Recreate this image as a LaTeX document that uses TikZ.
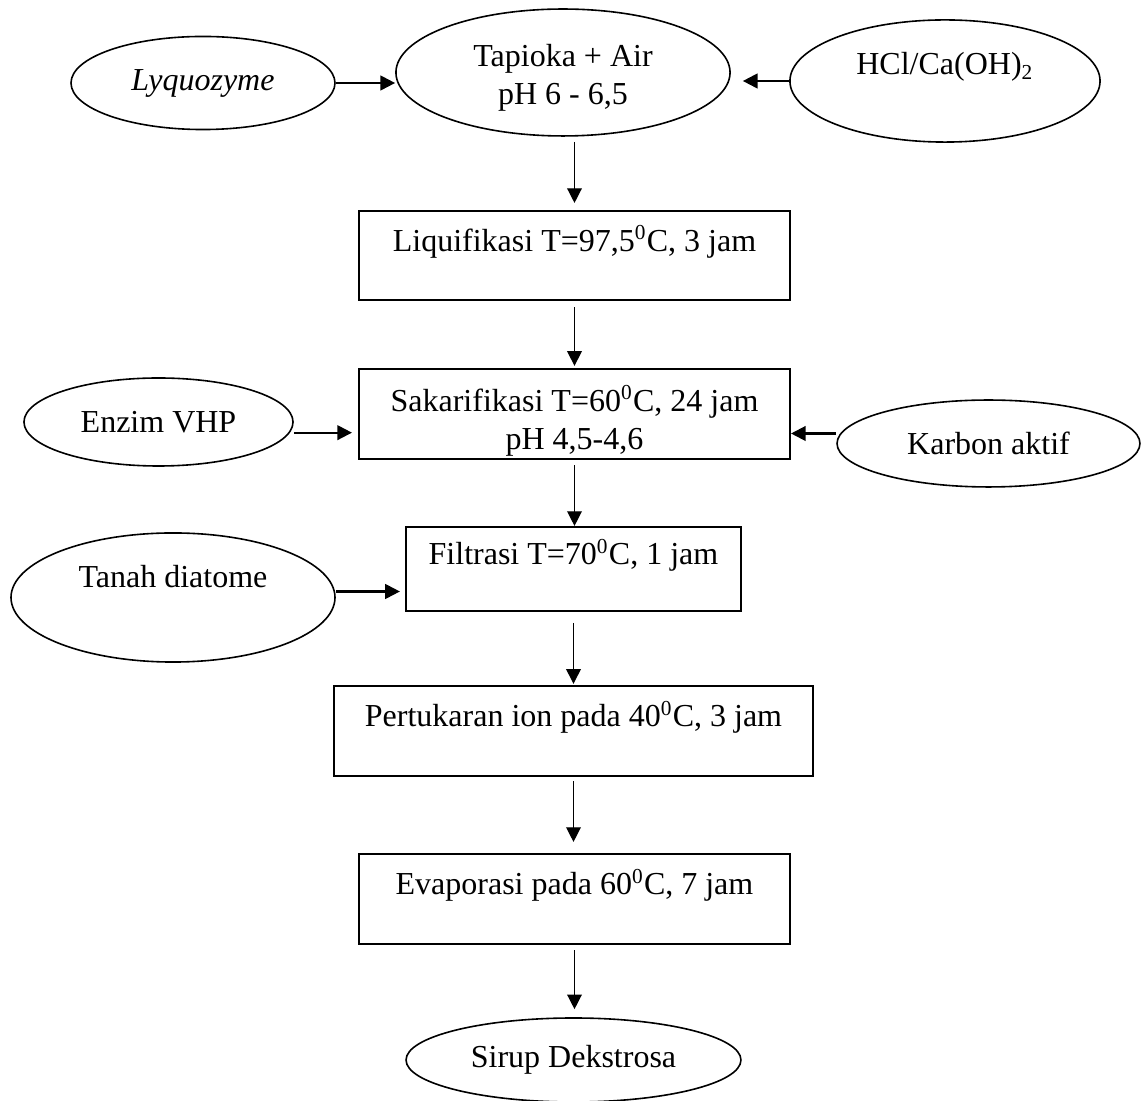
\documentclass[tikz,border=0pt]{standalone}
\usepackage{fontspec}
\setmainfont{Liberation Serif}
\usetikzlibrary{shapes.geometric,arrows.meta}

\begin{document}
\begin{tikzpicture}[x=0.375pt,y=-0.375pt,
	every node/.style={font=\fontsize{12}{14.25}\selectfont, align=center, inner sep=0pt},
	bahan/.style={draw, ellipse, line width=0.6pt},
	proses/.style={draw, rectangle, line width=0.8pt},
	satu/.style={text height=9pt, text depth=12pt},
	panah/.style={-{Triangle[length=5.5pt,width=5.5pt]}, line width=0.5pt},
	panahh/.style={-{Triangle[length=5.5pt,width=5.5pt]}, line width=0.8pt}]
			\useasboundingbox (0,0) rectangle (1141,1101);
			% bahan
			\node [bahan, minimum width=99pt, minimum height=34.9pt] (lyq) at (203,83) {\textit{Lyquozyme}};
			\node [bahan, minimum width=125.3pt, minimum height=47.6pt] (tap) at (563,72.5) {\rule{0pt}{12pt}Tapioka + Air\\pH 6 - 6,5};
			\node [bahan, minimum width=116.3pt, minimum height=45.8pt, text height=9pt, text depth=14pt] (hcl) at (945,81) {HCl/Ca(OH)\textsubscript{2}};
			\node [bahan, minimum width=100.9pt, minimum height=33pt] (enz) at (158.5,422) {Enzim VHP};
			\node [bahan, minimum width=113.6pt, minimum height=32.6pt] (karb) at (988.5,443.5) {Karbon aktif};
			\node [bahan, minimum width=121.5pt, minimum height=48.4pt, text height=9pt, text depth=16.6pt] (tanah) at (173,597.5) {Tanah diatome};
			\node [bahan, minimum width=125.6pt, minimum height=31.5pt] (sirup) at (573.5,1060) {Sirup Dekstrosa};
			% proses
			\node [proses, satu, minimum width=161.6pt, minimum height=33.4pt] (liq) at (574.5,255.5) {Liquifikasi T=97,5\textsuperscript{0}C, 3 jam};
			\node [proses, minimum width=161.6pt, minimum height=33.8pt] (sak) at (574.5,414) {\rule{0pt}{15pt}Sakarifikasi T=60\textsuperscript{0}C, 24 jam\\pH 4,5-4,6};
			\node [proses, satu, minimum width=125.6pt, minimum height=31.5pt] (filt) at (573.5,569) {Filtrasi T=70\textsuperscript{0}C, 1 jam};
			\node [proses, satu, minimum width=179.6pt, minimum height=33.8pt] (pert) at (573.5,731) {Pertukaran ion pada 40\textsuperscript{0}C, 3 jam};
			\node [proses, satu, minimum width=161.6pt, minimum height=33.8pt] (evap) at (574.5,899) {Evaporasi pada 60\textsuperscript{0}C, 7 jam};
			% panah utama
			\draw [panah, shorten <=1.9pt, shorten >=2.6pt] (tap.south -| liq.north) -- (liq.north);
			\draw [panah, shorten <=2.25pt, shorten >=0.75pt] (liq.south) -- (sak.north);
			\draw [panah, shorten <=1.9pt] (sak.south) -- (sak.south |- filt.north);
			\draw [panah, shorten <=4.1pt, shorten >=0.4pt] (filt.south) -- (filt.south |- pert.north);
			\draw [panah, shorten <=1.5pt, shorten >=4.1pt] (pert.south) -- (pert.south |- evap.north);
			\draw [panah, shorten <=1.9pt, shorten >=3pt] (evap.south) -- (evap.south |- sirup.north);
			% panah samping
			\draw [panahh] (lyq.east) -- (lyq.east -| tap.west);
			\draw [panahh, shorten >=4.5pt] (hcl.west) -- (hcl.west -| tap.east);
			\draw [panahh, shorten >=2.25pt] ([yshift=-4pt]enz.east) -- ([yshift=-4pt]enz.east -| sak.west);
			\draw [panahh] ([yshift=3.75pt]karb.west) -- ([yshift=3.75pt]karb.west -| sak.east);
			\draw [panahh, shorten >=1.9pt] ([yshift=2.25pt]tanah.east) -- ([yshift=2.25pt]tanah.east -| filt.west);
\end{tikzpicture}
\end{document}
